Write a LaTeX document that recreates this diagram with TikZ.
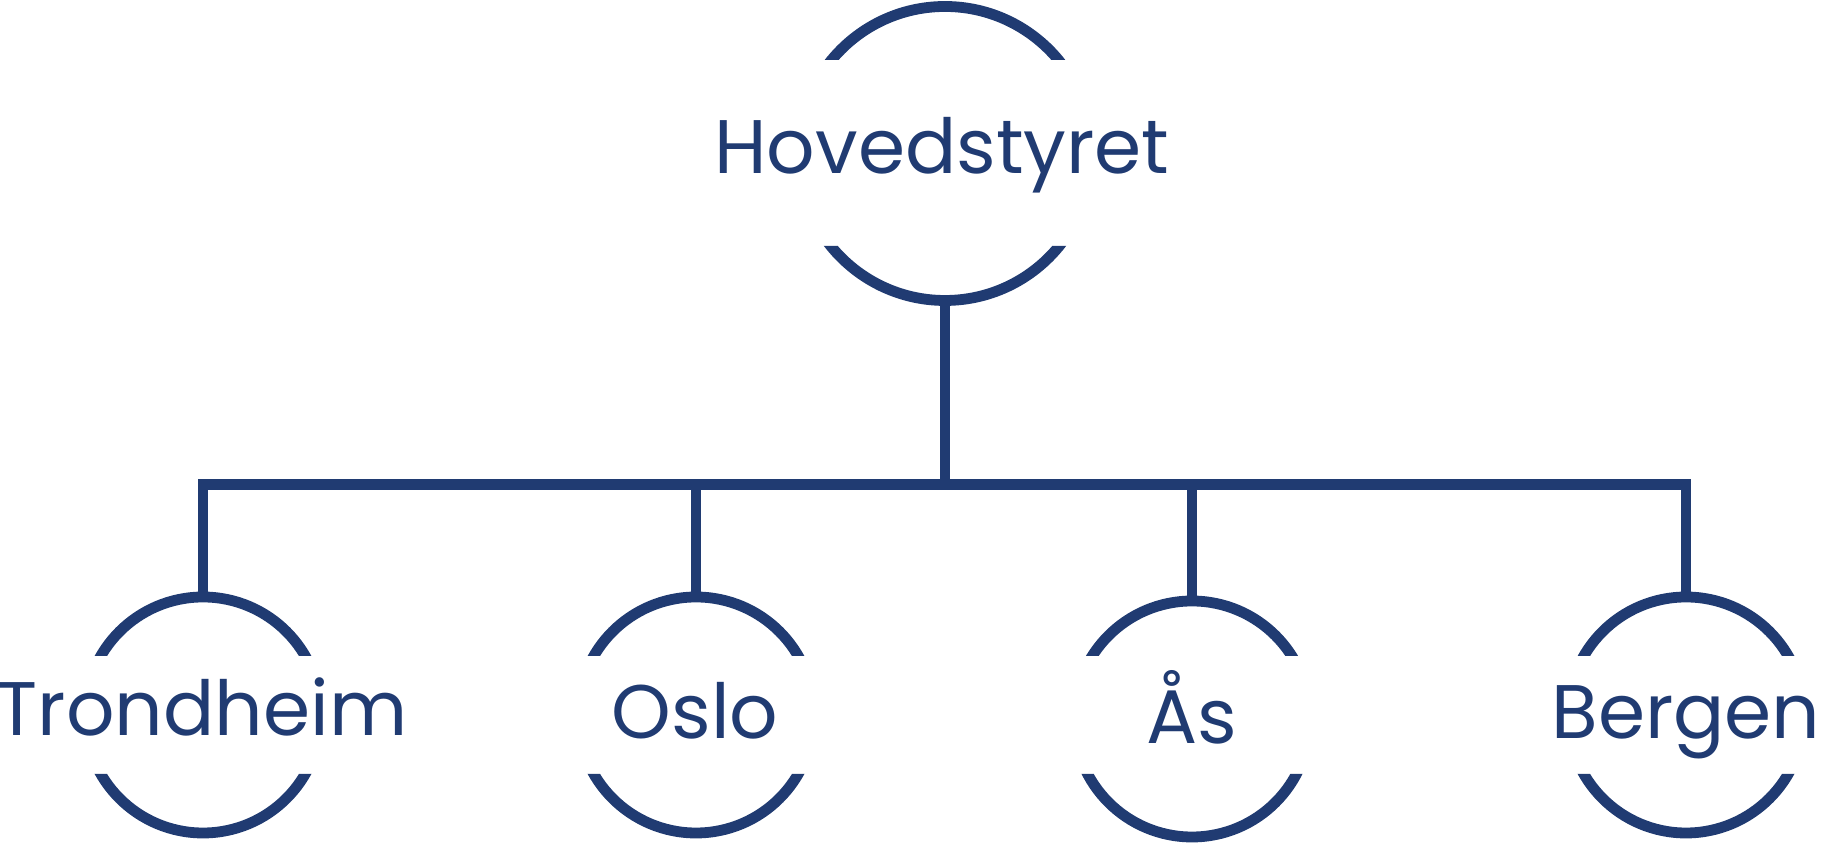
\documentclass[tikz,border=0pt]{standalone}
\usepackage{fontspec}
\setmainfont{Poppins}
\definecolor{navy}{RGB}{32,59,114}
\tikzset{
  ring/.style={circle, inner sep=0pt, outer sep=0pt, minimum size=#1},
  city/.style={anchor=base, text=navy, inner sep=0pt, font=\fontsize{21.6}{26}\selectfont},
  link/.style={draw=navy, line width=1.08mm},
}
\begin{document}
\begin{tikzpicture}[x=0.1mm, y=0.1mm]
  \useasboundingbox (0,0) rectangle (1826,843);

  \node (hs) at (945,689.5) [ring=29.4mm] {};
  \node (trd) at (203,128) [ring=23.6mm] {};
  \node (osl) at (696,128) [ring=23.6mm] {};
  \node (aas) at (1192,124) [ring=23.6mm] {};
  \node (bgn) at (1686,128) [ring=23.6mm] {};

  \node (hslbl) at (942,669) [city] {Hovedstyret};
  \node (trdlbl) at (202,107) [city] {Trondheim};
  \node (osllbl) at (695,104) [city] {Oslo};
  \node (aaslbl) at (1192,99) [city] {Ås};
  \node (bgnlbl) at (1686,104) [city] {Bergen};

  \begin{scope}
    \clip (0,0) rectangle (1826,69) (0,187) rectangle (1826,597) (0,783) rectangle (1826,843);
    \foreach \n/\r in {hs/14.7mm, trd/11.8mm, osl/11.8mm, aas/11.8mm, bgn/11.8mm}
      \draw[link] (\n.center) circle[radius=\r];
  \end{scope}

  \coordinate (bus) at (945,358.5);
  \draw[link] (hs.south) -- (bus);
  \draw[link] (trd.north) |- (bus) -| (bgn.north);
  \draw[link] (osl.north) -- (osl.north |- bus);
  \draw[link] (aas.north) -- (aas.north |- bus);
\end{tikzpicture}
\end{document}
